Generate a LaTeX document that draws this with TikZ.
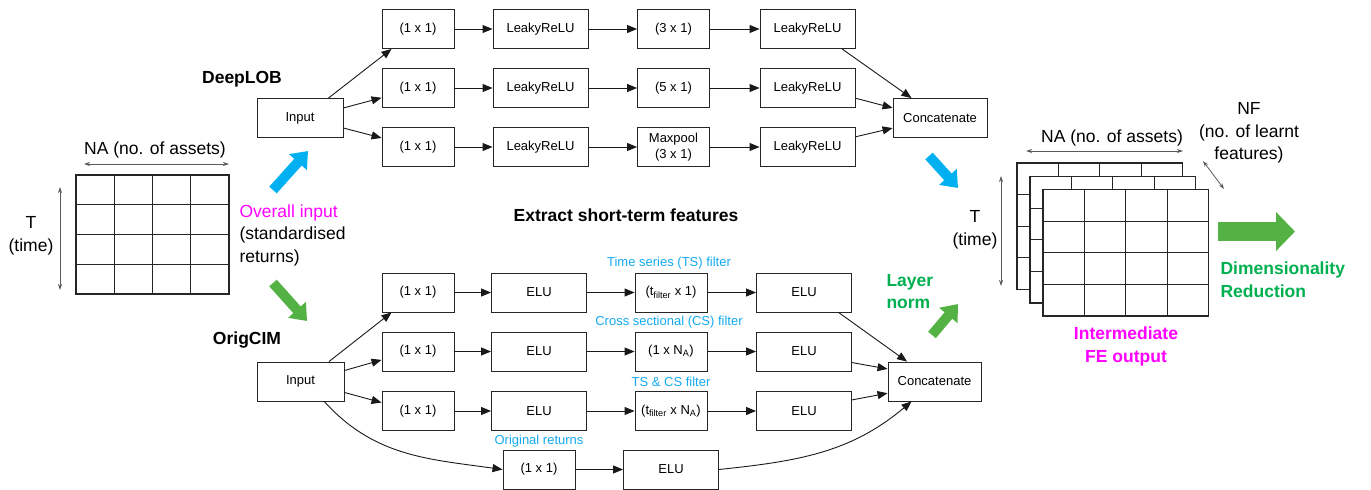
\documentclass[tikz,border=0pt]{standalone}
\usepackage{fontspec}
\setmainfont{Liberation Sans}
\usetikzlibrary{arrows.meta}

\definecolor{fatblue}{RGB}{0,176,240}
\definecolor{fatgreen}{RGB}{84,178,68}
\definecolor{txtgreen}{RGB}{0,176,80}
\definecolor{txtblue}{RGB}{20,170,240}
\definecolor{txtmagenta}{RGB}{255,0,255}
\definecolor{dimgray}{RGB}{90,90,90}

\begin{document}
\begin{tikzpicture}[x=1pt,y=-1pt,
    box/.style={draw=black!85,line width=0.9pt,minimum height=39pt,inner sep=0pt,align=center,
        font=\fontsize{13}{16}\selectfont},
    conv/.style={box,minimum width=72pt},
    act/.style={box,minimum width=95pt},
    big/.style={align=center,font=\fontsize{17.5}{22.5}\selectfont},
    heading/.style={align=left,font=\fontsize{17.5}{22.5}\selectfont\bfseries},
    filt/.style={text=txtblue,font=\fontsize{13}{15}\selectfont},
    fatarrow/.style={line width=10pt,-{Triangle[length=15pt,width=23pt]}},
    dimarrow/.style={draw=dimgray,line width=0.8pt,{Stealth[length=6pt,width=4pt]}-{Stealth[length=6pt,width=4pt]}},
    gridline/.style={draw=black!85,line width=1.1pt}]
    \useasboundingbox (0,0) rectangle (1371,490);

    % DeepLOB branch
    \draw
    (300,118) node[box,minimum width=86pt](inA){Input}
    (418,29) node[conv](a11){(1 x 1)}
    (540.5,29) node[act](a12){LeakyReLU}
    (673.5,29) node[conv](a13){(3 x 1)}
    (807.5,29) node[act](a14){LeakyReLU}
    (418,88) node[conv](a21){(1 x 1)}
    (540.5,88) node[act](a22){LeakyReLU}
    (673.5,88) node[conv](a23){(5 x 1)}
    (807.5,88) node[act](a24){LeakyReLU}
    (418,147) node[conv](a31){(1 x 1)}
    (540.5,147) node[act](a32){LeakyReLU}
    (673.5,147) node[conv](a33){Maxpool\\(3 x 1)}
    (807.5,147) node[act](a34){LeakyReLU}
    (940,118) node[box,minimum width=94pt](catA){Concatenate}
    ;

    % OrigCIM branch
    \draw
    (300.5,381.5) node[box,minimum width=87pt](inB){Input}
    (418,292.5) node[conv](b11){(1 x 1)}
    (539,292.5) node[act](b12){ELU}
    (671,292.5) node[conv](b13){(t\textsubscript{filter} x 1)}
    (804,292.5) node[act](b14){ELU}
    (418,351.5) node[conv](b21){(1 x 1)}
    (539,351.5) node[act](b22){ELU}
    (671,351.5) node[conv](b23){(1 x N\textsubscript{A})}
    (804,351.5) node[act](b24){ELU}
    (418,411) node[conv](b31){(1 x 1)}
    (539,411) node[act](b32){ELU}
    (671,411) node[conv](b33){(t\textsubscript{filter} x N\textsubscript{A})}
    (804,411) node[act](b34){ELU}
    (539,469.5) node[conv](b41){(1 x 1)}
    (671,469.5) node[act](b42){ELU}
    (934.5,381.5) node[box,minimum width=93pt](catB){Concatenate}
    ;

    \begin{scope}[
        every edge/.style={draw=black!90,line width=0.9pt,-{Triangle[length=10pt,width=8pt]}}]
        \path (inA.35) edge (a11.217);
        \path (inA.13) edge (a21.195);
        \path (inA.347) edge (a31.166);
        \path (a11) edge (a12) (a12) edge (a13) (a13) edge (a14);
        \path (a21) edge (a22) (a22) edge (a23) (a23) edge (a24);
        \path (a31) edge (a32) (a32) edge (a33) (a33) edge (a34);
        \path (a14.330) edge (catA.145);
        \path (a24.348) edge (catA.168);
        \path (a34.12) edge (catA.192);

        \path (inB.35) edge (b11.217);
        \path (inB.14) edge (b21.193);
        \path (inB.346) edge (b31.167);
        \path (b11) edge (b12) (b12) edge (b13) (b13) edge (b14);
        \path (b21) edge (b22) (b22) edge (b23) (b23) edge (b24);
        \path (b31) edge (b32) (b32) edge (b33) (b33) edge (b34);
        \path (inB.-40) edge[out=-48,in=172] (b41.west);
        \path (b41) edge (b42);
        \path (b14.330) edge (catB.144);
        \path (b24.347) edge (catB.165);
        \path (b34.13) edge (catB.194);
        \path (b42.east) edge[out=6,in=-140] (catB.221);
    \end{scope}

    % filter labels
    \node[filt] (tsf) at (669,263) {Time series (TS) filter};
    \node[filt] (csf) at (669,322) {Cross sectional (CS) filter};
    \node[filt] (tcf) at (671,382) {TS \& CS filter};
    \node[filt] (orr) at (539,441) {Original returns};

    % input returns grid
    \filldraw[fill=white,gridline] (76,175) rectangle (229,294);
    \foreach \i in {1,2,3} {
        \draw[gridline] (76+38.25*\i,175) -- ++(0,119);
        \draw[gridline] (76,175+29.75*\i) -- ++(153,0);
    }
    \node[big] (naL) at (155,150) {NA (no. of assets)};
    \coordinate (naL1) at (84,164);
    \coordinate (naL2) at (229,164);
    \draw[dimarrow] (naL1) -- (naL2);
    \node[big] (tL) at (31,236) {T\\(time)};
    \coordinate (tL1) at (60,187);
    \coordinate (tL2) at (60,290);
    \draw[dimarrow] (tL1) -- (tL2);
    \node[big,align=left,anchor=west] (ovin) at (236,235)
        {\textcolor{txtmagenta}{Overall input}\\(standardised\\returns)};

    \node[heading] (dlob) at (242,79) {DeepLOB};
    \node[heading] (ocim) at (247,340) {OrigCIM};
    \node[heading] (xst) at (626,215) {Extract short-term features};

    % fat arrows
    \draw[fatarrow,draw=fatblue] (273,190) -- (308,151);
    \draw[fatarrow,draw=fatgreen] (273,283) -- (307,321);
    \draw[fatarrow,draw=fatblue] (929,156) -- (958,188);
    \draw[fatarrow,draw=fatgreen] (932,335) -- (958,304);
    \draw[line width=19pt,draw=fatgreen,-{Triangle[length=19pt,width=38pt]}] (1218,231.5) -- (1295,231.5);

    \node[heading,text=txtgreen] (lnorm) at (883,291.5) [anchor=west] {Layer\\norm};
    \node[heading,text=txtgreen] (dred) at (1217,279.5) [anchor=west] {Dimensionality\\Reduction};

    % intermediate feature stack
    \foreach \ox/\oy in {1017/163, 1030/176.5, 1043/189.5} {
        \filldraw[fill=white,gridline] (\ox,\oy) rectangle ++(165.5,126.5);
        \foreach \i in {1,2,3} {
            \draw[gridline] (\ox+41.4*\i,\oy) -- ++(0,126.5);
            \draw[gridline] (\ox,\oy+31.6*\i) -- ++(165.5,0);
        }
    }
    \node[big] (naR) at (1112,138) {NA (no. of assets)};
    \coordinate (naR1) at (1026,151);
    \coordinate (naR2) at (1183,151);
    \draw[dimarrow] (naR1) -- (naR2);
    \node[big] (tR) at (975,230) {T\\(time)};
    \coordinate (tR1) at (1001,176);
    \coordinate (tR2) at (1001,286);
    \draw[dimarrow] (tR1) -- (tR2);
    \node[big] (nf) at (1249,133) {NF\\(no. of learnt\\features)};
    \coordinate (nf1) at (1203,161);
    \coordinate (nf2) at (1224,189);
    \draw[dimarrow] (nf1) -- (nf2);
    \node[heading,align=center,text=txtmagenta] (feout) at (1126,346.5) {Intermediate\\FE output};
\end{tikzpicture}
\end{document}
